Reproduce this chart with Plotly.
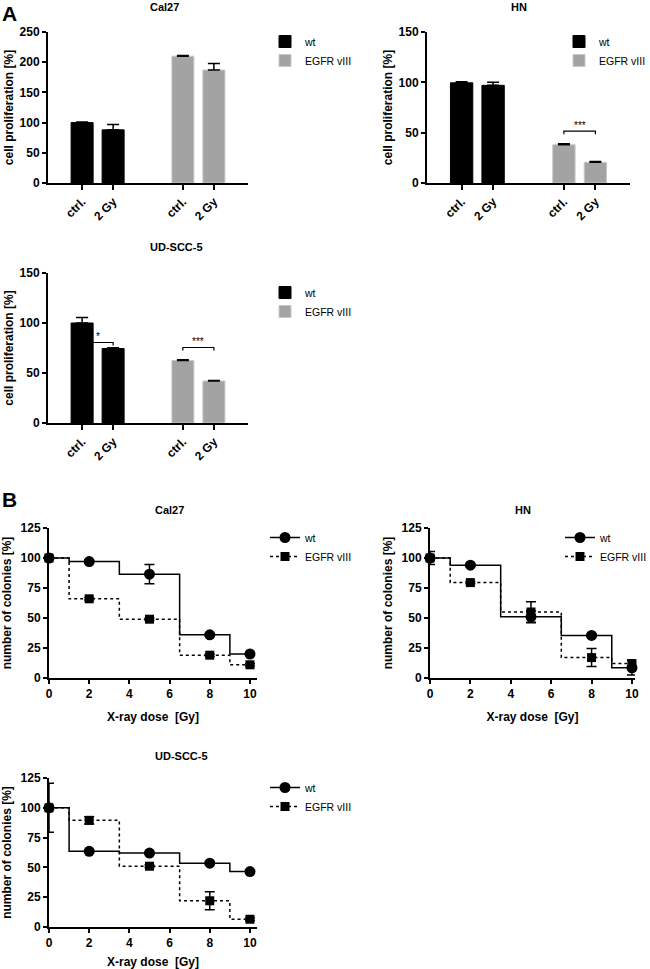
import plotly.graph_objects as go

W, H = 650, 969
FONT = "Liberation Sans, Arial, sans-serif"

# ---------------- data ----------------
bar_labels = ["ctrl.", "2 Gy"]
series_names = ["wt", "EGFR vIII"]

cal27_wt = [100, 88]
cal27_wt_err = [1, 9]
cal27_egfr = [210, 187]
cal27_egfr_err = [1, 11]

hn_wt = [99.5, 97]
hn_wt_err = [1, 3]
hn_egfr = [38, 20.5]
hn_egfr_err = [1, 0.8]

ud_wt = [100, 74.5]
ud_wt_err = [5.5, 0.8]
ud_egfr = [62.5, 42]
ud_egfr_err = [0.8, 0.5]

dose = [0, 2, 5, 8, 10]
cal27_wt_col = [100, 97, 86.5, 36, 20]
cal27_wt_col_err = [1, 1, 8, 1, 1]
cal27_egfr_col = [100, 66, 49, 19, 11]
cal27_egfr_col_err = [1, 1, 1, 1, 1]

hn_wt_col = [100, 94, 51, 35.5, 8.5]
hn_wt_col_err = [5.5, 1, 5, 1, 6]
hn_egfr_col = [100, 79.5, 55, 17, 12]
hn_egfr_col_err = [2, 1, 8.5, 7.5, 3]

ud_wt_col = [100, 63.5, 62, 53.5, 46.5]
ud_wt_col_err = [20.5, 1, 1, 1, 1]
ud_egfr_col = [100, 89.5, 51, 22, 6.5]
ud_egfr_col_err = [1, 3, 1, 7.5, 1]

# significance brackets: (group, label, height)
hn_sig = [("egfr", "***", 51.5)]
ud_sig = [("wt", "*", 80.5), ("egfr", "***", 75.5)]

# ---------------- layout helpers ----------------
wt_pos = [1, 2]
egfr_pos = [4.25, 5.25]

def dx(a, b):
    return [a / W, b / W]

def dy(top, bottom):
    return [1 - bottom / H, 1 - top / H]

BLACK = "#000000"
GREY = "#a3a3a3"

fig = go.Figure()

tickfont = dict(family=FONT, size=12, color="black", weight="bold")
titlefont = dict(family=FONT, size=12, color="black", weight="bold")

def axis_common():
    return dict(showgrid=False, zeroline=False, showline=True, linecolor="black",
                linewidth=2, ticks="outside", ticklen=4, tickwidth=1.5,
                tickcolor="black", tickfont=tickfont, fixedrange=True, automargin=False)

bar_panels = [
    ("Cal27", 1, dx(48, 248), dy(32, 183), [0, 250], 50, cal27_wt, cal27_wt_err,
     cal27_egfr, cal27_egfr_err, [], (265, 27), 7),
    ("HN", 2, dx(427, 630), dy(32, 183), [0, 150], 50, hn_wt, hn_wt_err,
     hn_egfr, hn_egfr_err, hn_sig, (559, 27), 7),
    ("UD-SCC-5", 3, dx(48, 248), dy(273, 423), [0, 150], 50, ud_wt, ud_wt_err,
     ud_egfr, ud_egfr_err, ud_sig, (265, 278), 247),
]

annotations = []
shapes = []
legend_layouts = {}

for name, i, xd, yd, yr, dt, wv, we, ev, ee, sig, lp, ty in bar_panels:
    xa = "x" if i == 1 else f"x{i}"
    ya = "y" if i == 1 else f"y{i}"
    leg = "legend" if i == 1 else f"legend{i}"
    for pos, vals, errs, col, sname in [(wt_pos, wv, we, BLACK, series_names[0]),
                                        (egfr_pos, ev, ee, GREY, series_names[1])]:
        fig.add_trace(go.Bar(
            x=pos, y=vals, width=0.71, name=sname, legend=leg,
            marker=dict(color=col, line=dict(color="#c8c8c8" if col == GREY else "black", width=1)),
            error_y=dict(type="data", array=errs, arrayminus=[0] * len(errs), symmetric=False,
                         color="black", thickness=1.5, width=6),
            xaxis=xa, yaxis=ya, cliponaxis=False, showlegend=True))
    ax = axis_common()
    ax.update(domain=xd, range=[-0.1, 6.35], tickvals=wt_pos + egfr_pos,
              ticktext=bar_labels + bar_labels, tickangle=-45, anchor=ya, ticklen=5)
    ay = axis_common()
    ay.update(domain=yd, range=yr, dtick=dt, anchor=xa,
              title=dict(text="cell proliferation [%]", font=titlefont, standoff=3))
    fig.layout[("xaxis" if i == 1 else f"xaxis{i}")] = ax
    fig.layout[("yaxis" if i == 1 else f"yaxis{i}")] = ay
    annotations.append(dict(text=f"<b>{name}</b>", x=(xd[0] + xd[1]) / 2, y=1 - ty / H,
                            xref="paper", yref="paper", showarrow=False,
                            font=dict(family=FONT, size=11, color="black"),
                            yanchor="middle"))
    for grp, lab, hgt in sig:
        p = wt_pos if grp == "wt" else egfr_pos
        d = 3 * (yr[1] / 150)
        shapes.append(dict(type="path", xref=xa, yref=ya,
                           path=f"M {p[0]},{hgt - d} L {p[0]},{hgt} L {p[1]},{hgt} L {p[1]},{hgt - d}",
                           line=dict(color="black", width=1.2)))
        annotations.append(dict(text=lab, x=(p[0] + p[1]) / 2, y=hgt, xref=xa, yref=ya,
                                showarrow=False, yanchor="bottom", yshift=-2,
                                font=dict(family=FONT, size=10, color="black")))
    legend_layouts[leg] = dict(x=lp[0] / W, y=1 - lp[1] / H, xanchor="left", yanchor="top",
                               font=dict(family=FONT, size=10.5, color="black"),
                               bgcolor="rgba(0,0,0,0)", tracegroupgap=4, itemwidth=30)

line_panels = [
    ("Cal27", 4, dx(49, 257), dy(528, 678), [0, 10.35], cal27_wt_col, cal27_wt_col_err,
     cal27_egfr_col, cal27_egfr_col_err, (265, 523), 510),
    ("HN", 5, dx(430, 635), dy(528, 678), [0, 10.15], hn_wt_col, hn_wt_col_err,
     hn_egfr_col, hn_egfr_col_err, (560, 523), 510),
    ("UD-SCC-5", 6, dx(49, 257), dy(778, 927), [0, 10.35], ud_wt_col, ud_wt_col_err,
     ud_egfr_col, ud_egfr_col_err, (265, 773), 756),
]

for name, i, xd, yd, xr, wv, we, ev, ee, lp, ty in line_panels:
    xa, ya, leg = f"x{i}", f"y{i}", f"legend{i}"
    fig.add_trace(go.Scatter(
        x=dose, y=wv, name=series_names[0], legend=leg, mode="lines+markers",
        line=dict(color="black", width=1.5, shape="hvh"),
        marker=dict(symbol="circle", size=11, color="black"),
        error_y=dict(type="data", array=we, color="black", thickness=1.5, width=5),
        xaxis=xa, yaxis=ya, cliponaxis=False))
    fig.add_trace(go.Scatter(
        x=dose, y=ev, name=series_names[1], legend=leg, mode="lines+markers",
        line=dict(color="black", width=1.5, shape="hvh", dash="dot"),
        marker=dict(symbol="square", size=9, color="black"),
        error_y=dict(type="data", array=ee, color="black", thickness=1.5, width=5),
        xaxis=xa, yaxis=ya, cliponaxis=False))
    ax = axis_common()
    ax.update(domain=xd, range=xr, tickvals=[0, 2, 4, 6, 8, 10], anchor=ya,
              title=dict(text="X-ray dose  [Gy]", font=titlefont, standoff=12))
    ay = axis_common()
    ay.update(domain=yd, range=[0, 125], dtick=25, anchor=xa,
              title=dict(text="number of colonies [%]", font=titlefont, standoff=6))
    fig.layout[f"xaxis{i}"] = ax
    fig.layout[f"yaxis{i}"] = ay
    annotations.append(dict(text=f"<b>{name}</b>", x=(xd[0] + xd[1]) / 2, y=1 - ty / H,
                            xref="paper", yref="paper", showarrow=False,
                            font=dict(family=FONT, size=11, color="black"), yanchor="middle"))
    legend_layouts[leg] = dict(x=lp[0] / W, y=1 - lp[1] / H, xanchor="left", yanchor="top",
                               font=dict(family=FONT, size=10.5, color="black"),
                               bgcolor="rgba(0,0,0,0)", itemwidth=30)

annotations.append(dict(text="<b>A</b>", x=0, y=1, xref="paper", yref="paper",
                        showarrow=False, xanchor="left", yanchor="top",
                        font=dict(family=FONT, size=21, color="black")))
annotations.append(dict(text="<b>B</b>", x=0, y=1 - 486 / H, xref="paper", yref="paper",
                        showarrow=False, xanchor="left", yanchor="top",
                        font=dict(family=FONT, size=21, color="black")))

fig.update_layout(width=W, height=H, margin=dict(l=0, r=0, t=0, b=0, autoexpand=False),
                  paper_bgcolor="white", plot_bgcolor="white",
                  barmode="overlay", annotations=annotations, shapes=shapes,
                  font=dict(family=FONT, color="black"))
fig.update_layout(**legend_layouts)

fig.write_html("out.html", config={"displayModeBar": False},
               post_script="document.body.style.margin='0px';document.body.style.overflow='hidden';")
